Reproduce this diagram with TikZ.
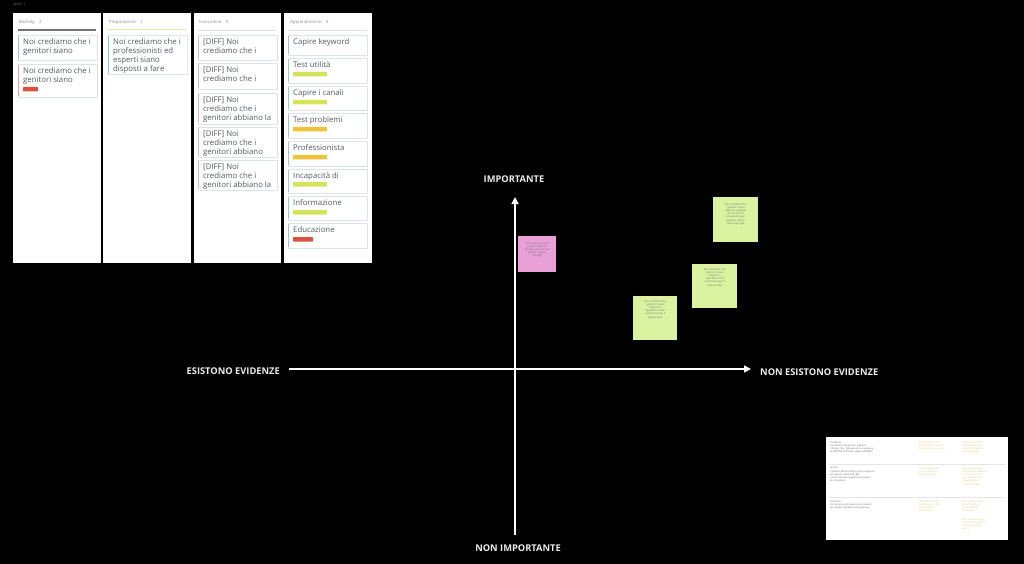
\documentclass[tikz,border=0pt]{standalone}
\usepackage{fontspec}
\setmainfont{Open Sans}
\usetikzlibrary{arrows.meta}
\definecolor{cardborder}{HTML}{DCE3EA}
\definecolor{cardtxt}{HTML}{555B63}
\definecolor{barblue}{HTML}{9CC3DF}
\definecolor{barred}{HTML}{E8A0A0}
\definecolor{barpink}{HTML}{E6B5BE}
\definecolor{taggreen}{HTML}{D4E35A}
\definecolor{tagyellow}{HTML}{EFC43A}
\definecolor{tagred}{HTML}{D9523F}
\definecolor{notegreen}{HTML}{D9F3A0}
\definecolor{notepink}{HTML}{E9A0D6}
\definecolor{hdrtxt}{HTML}{8A8F96}
\definecolor{doctxt}{HTML}{6A6A6A}
\definecolor{docyel}{HTML}{E3C77A}
\tikzset{
  panel/.style={fill=white},
  cardbox/.style={fill=white, draw=cardborder, line width=0.5pt},
  cardtext/.style={anchor=north west, inner sep=0pt, align=left, text=cardtxt, font=\fontsize{7.8}{8.8}\selectfont},
  hdr/.style={anchor=west, inner sep=0pt, text=hdrtxt, font=\fontsize{4.3}{5}\selectfont},
  axis/.style={draw=white, line width=1.6pt, -{Triangle[width=7pt,length=7pt]}},
  axlabel/.style={text=white!92!black, inner sep=0pt, font=\bfseries\fontsize{9.3}{10}\selectfont},
  sticky/.style={inner sep=0pt, anchor=north west, align=center, text=black!55, font=\fontsize{2.6}{3.2}\selectfont},
  tiny/.style={anchor=north west, inner sep=0pt, align=left, font=\fontsize{2.4}{3.2}\selectfont}
}
\newcommand\kcard[6]{%
  \draw[cardbox] (#2,#3) rectangle (#2+79,#4);
  \draw[line width=1.3pt,#5] (#2+0.8,#3+1) -- (#2+0.8,#4-1);
  \node[cardtext] (#1) at (#2+5,#3+3.5) {#6};
}
\newcommand\ktag[4]{\fill[#4, rounded corners=0.6pt] (#1+5,#2) rectangle (#1+5+#3,#2+4.5);}
\begin{document}
\begin{tikzpicture}[x=1pt,y=-1pt]
\fill[black] (0,0) rectangle (1024,564);
\useasboundingbox (0,0) rectangle (1024,564);
\node[anchor=west, inner sep=0pt, text=white!45!black, font=\fontsize{3.5}{4}\selectfont] (sprint) at (13,5) {sprint 1};
% panels
\fill[panel] (13,13) rectangle (100.5,263);
\fill[panel] (103,13) rectangle (190.5,263);
\fill[panel] (193.5,13) rectangle (281,263);
\fill[panel] (284,13) rectangle (372,263);
% headers
\node[hdr] (h1) at (19,22) {Backlog\quad 2};
\node[hdr] (h2) at (109,22) {Preparazione\quad 1};
\node[hdr] (h3) at (199,22) {Esecuzione\quad 5};
\node[hdr] (h4) at (290,22) {Apprendimento\quad 8};
\draw[line width=1.4pt, black!55] (18,30) -- (96,30);
\draw[line width=1pt, yellow!25!white!90!black] (108,30) -- (186,30);
\draw[line width=0.8pt, black!15] (198,30) -- (276,30);
\draw[line width=0.8pt, black!12] (289,30) -- (367,30);
% column 1
\kcard{c11}{18}{35}{60}{barblue}{Noi crediamo che i\\genitori siano}
\kcard{c12}{18}{64}{97}{barred}{Noi crediamo che i\\genitori siano}
\ktag{18}{87}{15}{tagred}
% column 2
\kcard{c21}{108}{35}{74}{barblue}{Noi crediamo che i\\professionisti ed\\esperti siano\\disposti a fare}
% column 3
\kcard{c31}{198}{35}{60}{barpink}{[DIFF] Noi\\crediamo che i}
\kcard{c32}{198}{63}{89}{barpink}{[DIFF] Noi\\crediamo che i}
\kcard{c33}{198}{93}{124}{barpink}{[DIFF] Noi\\crediamo che i\\genitori abbiano la}
\kcard{c34}{198}{127}{157}{barpink}{[DIFF] Noi\\crediamo che i\\genitori abbiano}
\kcard{c35}{198}{160}{190}{barpink}{[DIFF] Noi\\crediamo che i\\genitori abbiano la}
% column 4
\kcard{c41}{288}{35}{55}{barblue}{Capire keyword}
\kcard{c42}{288}{58}{83}{barblue}{Test utilità}
\ktag{288}{72}{34}{taggreen}
\kcard{c43}{288}{86}{110}{barblue}{Capire i canali}
\ktag{288}{100}{34}{taggreen}
\kcard{c44}{288}{113}{138}{barblue}{Test problemi}
\ktag{288}{127}{34}{tagyellow}
\kcard{c45}{288}{141}{166}{barblue}{Professionista}
\ktag{288}{155}{34}{tagyellow}
\kcard{c46}{288}{169}{193}{barblue}{Incapacità di}
\ktag{288}{182}{34}{taggreen}
\kcard{c47}{288}{196}{220}{barblue}{Informazione}
\ktag{288}{210}{34}{taggreen}
\kcard{c48}{288}{223}{248}{barblue}{Educazione}
\ktag{288}{237}{20}{tagred}
% axes
\coordinate (vbot) at (515,535);
\coordinate (vtop) at (515,197);
\coordinate (hl) at (289,369);
\coordinate (hr) at (751,369);
\draw[axis] (vbot) -- (vtop);
\draw[axis] (hl) -- (hr);
\node[axlabel] (imp) at (514,179) {IMPORTANTE};
\node[axlabel] (nimp) at (518,548) {NON IMPORTANTE};
\node[axlabel, anchor=east] (ev) at (280,371) {ESISTONO EVIDENZE};
\node[axlabel, anchor=west] (nev) at (760,372) {NON ESISTONO EVIDENZE};
% sticky notes
\fill[notepink] (518,236) rectangle (556,272);
\node[sticky, text width=34pt] (n1) at (520,242) {Noi crediamo che i\\genitori abbiano\\bisogno di aiuto per\\gestire i device\\dei figli};
\fill[notegreen] (633,296) rectangle (677,340);
\node[sticky, text width=40pt] (n2) at (635,300) {Noi crediamo che\\i genitori siano\\disposti a\\spendere 15/30\\euro/mese per il\\proprio devi};
\fill[notegreen] (692,264) rectangle (737,308);
\node[sticky, text width=41pt] (n3) at (694,268) {Noi crediamo che\\i genitori siano\\disposti a\\spendere 5/10\\euro/mese per il\\proprio devi};
\fill[notegreen] (713,197) rectangle (758,242);
\node[sticky, text width=41pt] (n4) at (715,203) {Noi crediamo che\\i genitori siano\\disposti a pagare\\un servizio di\\consulenza per\\gestire i device\\dei propri figli};
% document bottom right
\fill[white] (826,437) rectangle (1008,540);
\draw[black!10, line width=0.5pt] (829,464) -- (1005,464);
\draw[black!10, line width=0.5pt] (829,497) -- (1005,497);
\node[tiny, text=doctxt] (d1) at (830,441) {Problema\\Il problema dei genitori è gestire\\il tempo che i figli passano sui device e\\la difficoltà di trovare esperti affidabili};
\node[tiny, text=doctxt] (d2) at (830,467) {Ipotesi\\I genitori hanno bisogno di un supporto\\per gestire i device dei figli\\e sono disposti a pagare un servizio\\di consulenza};
\node[tiny, text=doctxt] (d3) at (830,500) {Soluzione\\Un servizio di consulenza con esperti\\per aiutare i genitori nella gestione};
\node[tiny, text=docyel] (d4) at (919,441) {Noi crediamo che i\\genitori siano disposti\\a pagare per un servizio};
\node[tiny, text=docyel] (d5) at (919,467) {Noi crediamo che i\\genitori abbiano\\bisogno di aiuto};
\node[tiny, text=docyel] (d6) at (919,500) {Noi crediamo che i\\professionisti siano\\disposti a fare\\consulenze};
\node[tiny, text=docyel] (d7) at (962,441) {Noi crediamo che i\\genitori abbiano la\\necessità di gestire\\i device dei figli};
\node[tiny, text=docyel] (d8) at (962,467) {Noi crediamo che i\\genitori siano disposti\\a spendere 15/30\\euro al mese per il\\proprio device\\e quello dei figli};
\node[tiny, text=docyel] (d9) at (962,500) {Noi crediamo che i\\genitori abbiano\\la necessità di\\informarsi};
\node[tiny, text=docyel] (d10) at (962,518) {Noi crediamo che gli\\esperti siano disposti\\a fare consulenze\\online};
\end{tikzpicture}
\end{document}
